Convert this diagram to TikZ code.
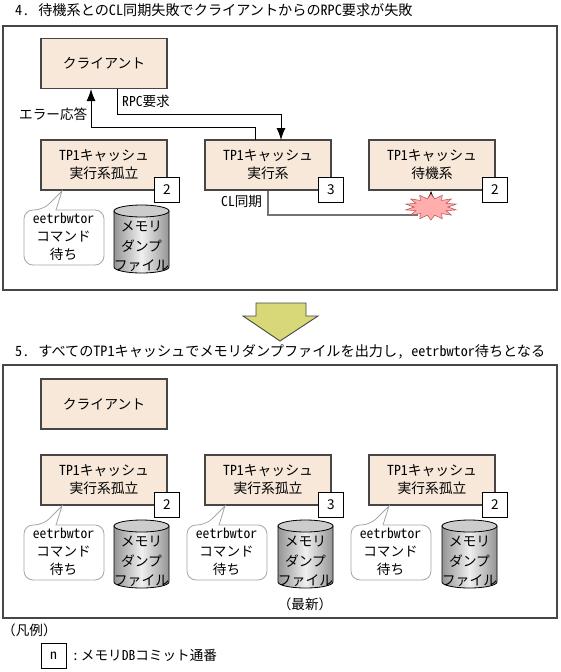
\documentclass[tikz,border=0pt]{standalone}
\usepackage{fontspec}
\setmainfont{Noto Sans CJK JP}
\newfontfamily\lat[RawFeature=+hwid]{Noto Sans CJK JP}
\usetikzlibrary{arrows.meta,shapes.geometric,calc}
\definecolor{boxfill}{RGB}{247,232,218}
\definecolor{edge}{RGB}{70,70,70}
\definecolor{bigarrow}{RGB}{216,216,120}
\tikzset{
  panel/.style={draw=edge,line width=1.1pt},
  sysbox/.style={draw=edge,line width=1.2pt,fill=boxfill,minimum width=126pt,minimum height=50pt,inner sep=0pt,align=center,font=\fontsize{13.8pt}{18pt}\selectfont},
  numbox/.style={draw=black,line width=.8pt,fill=white,minimum width=25pt,minimum height=25pt,inner sep=0pt,font=\fontsize{13.6pt}{16pt}\selectfont},
  label/.style={inner sep=0pt,anchor=west,font=\fontsize{13.6pt}{16pt}\selectfont},
  titletext/.style={inner sep=0pt,anchor=west,font=\fontsize{14.15pt}{16pt}\selectfont},
  calltext/.style={inner sep=0pt,align=center,font=\fontsize{13.6pt}{18pt}\selectfont},
  tipline/.style={line width=1pt,-{Latex[length=12pt,width=9pt]}},
  smalltip/.style={line width=.8pt,-{Latex[length=7pt,width=6pt]}},
}
\newcommand{\dumpcyl}[3]{% name, left x, top y
  \shade[left color=black!42,right color=black!42,middle color=black!6,draw=black,line width=.8pt]
    (#2,#3+6) -- (#2,#3+62) arc[start angle=180,end angle=360,x radius=27.5pt,y radius=6pt] -- (#2+55,#3+6) -- cycle;
  \draw[fill=black!20,line width=.8pt] (#2+27.5,#3+6) ellipse[x radius=27.5pt,y radius=6pt];
  \node[calltext,font=\fontsize{13.8pt}{19.5pt}\selectfont] (#1) at (#2+27.5,#3+41.5) {メモリ\\ダンプ\\ファイル};
}
\newcommand{\waitcall}[3]{% name, left x, top y
  \draw[draw=black!35,fill=white,line width=.8pt,rounded corners=9pt]
    (#2+32,#3) -- (#2+80,#3) -- (#2+80,#3+55) -- (#2,#3+55) -- (#2,#3) -- (#2+19,#3)
    [sharp corners] -- (#2+38,#3-19) -- cycle;
  \node[calltext] (#1) at (#2+39.5,#3+26.5) {{\lat eetrbwtor}\\コマンド\\待ち};
}
\begin{document}
\begin{tikzpicture}[x=1pt,y=-1pt]
\useasboundingbox (0,0) rectangle (561,672);
% titles
\node[titletext] (t4) at (15,10) {{\lat 4.}\hspace{9pt}待機系との{\lat CL}同期失敗でクライアントからの{\lat RPC}要求が失敗};
\node[titletext] (t5) at (15,352) {{\lat 5.}\hspace{9pt}すべての{\lat TP1}キャッシュでメモリダンプファイルを出力し{\lat ,}\hspace{7pt}{\lat eetrbwtor}待ちとなる};
% panels
\node[panel,minimum width=554pt,minimum height=264pt,inner sep=0pt] (p4) at (280,158) {};
\node[panel,minimum width=554pt,minimum height=253pt,inner sep=0pt] (p5) at (280,491.5) {};
% panel 4 boxes
\node[sysbox] (c4) at (104,63.5) {クライアント};
\node[sysbox] (a4) at (104,165) {{\lat TP1}キャッシュ\\実行系孤立};
\node[sysbox] (b4) at (268,165) {{\lat TP1}キャッシュ\\実行系};
\node[sysbox] (d4) at (432,165) {{\lat TP1}キャッシュ\\待機系};
% connectors
\coordinate (bc) at (431,207);
\draw[smalltip] (bc) -- (bc |- d4.south);
\coordinate (rpcstart) at (117,89);
\coordinate (rpcend) at (281,140);
\draw[tipline] (rpcstart) -- (117,114) -- (281,114) -- (rpcend);
\coordinate (errstart) at (255,140);
\coordinate (errend) at (91,89);
\draw[tipline] (errstart) -- (255,127) -- (91,127) -- (errend);
\draw[draw=black!55,line width=1.4pt] (b4.south) -- (268,215) -- (418,215);
\node[star,star points=14,star point ratio=1.55,minimum size=26pt,inner sep=0pt,draw=red!60!black!70,fill=red!32,line width=.5pt,xscale=2,yscale=1] (burst) at (bc) {};
% number boxes
\node[numbox] (na4) at (167,190) {2};
\node[numbox] (nb4) at (331,190) {3};
\node[numbox] (nd4) at (495,190) {2};
% labels
\node[label] (lrpc) at (122,101) {{\lat RPC}要求};
\node[label] (lerr) at (19,114) {エラー応答};
\node[label] (lcl) at (221,201) {{\lat CL}同期};
\waitcall{wa4}{24}{210}
\dumpcyl{da4}{114}{205}
% panel 5
\node[sysbox] (c5) at (104,404) {クライアント};
\node[sysbox] (a5) at (104,480) {{\lat TP1}キャッシュ\\実行系孤立};
\node[sysbox] (b5) at (268,480) {{\lat TP1}キャッシュ\\実行系孤立};
\node[sysbox] (d5) at (432,480) {{\lat TP1}キャッシュ\\実行系孤立};
\node[numbox] (na5) at (167,505) {2};
\node[numbox] (nb5) at (331,505) {3};
\node[numbox] (nd5) at (495,505) {2};
\waitcall{wa5}{24}{525}
\waitcall{wb5}{187}{525}
\waitcall{wd5}{351}{525}
\dumpcyl{da5}{114}{520}
\dumpcyl{db5}{278}{520}
\dumpcyl{dd5}{442}{520}
\node[calltext] (newest) at (305,604) {（最新）};
% down arrow
\draw[draw=edge,line width=.9pt,fill=bigarrow] (256,303) -- (306,303) -- (306,316) -- (318,316) -- (280,341) -- (243,316) -- (256,316) -- cycle;
% legend
\node[label] (lg) at (2,630) {（凡例）};
\node[numbox,draw=black] (ln) at (53.5,655.5) {{\lat n}};
\node[label] (lt) at (72,655) {{\lat :}\hspace{2pt}メモリ{\lat DB}コミット通番};
\end{tikzpicture}
\end{document}
